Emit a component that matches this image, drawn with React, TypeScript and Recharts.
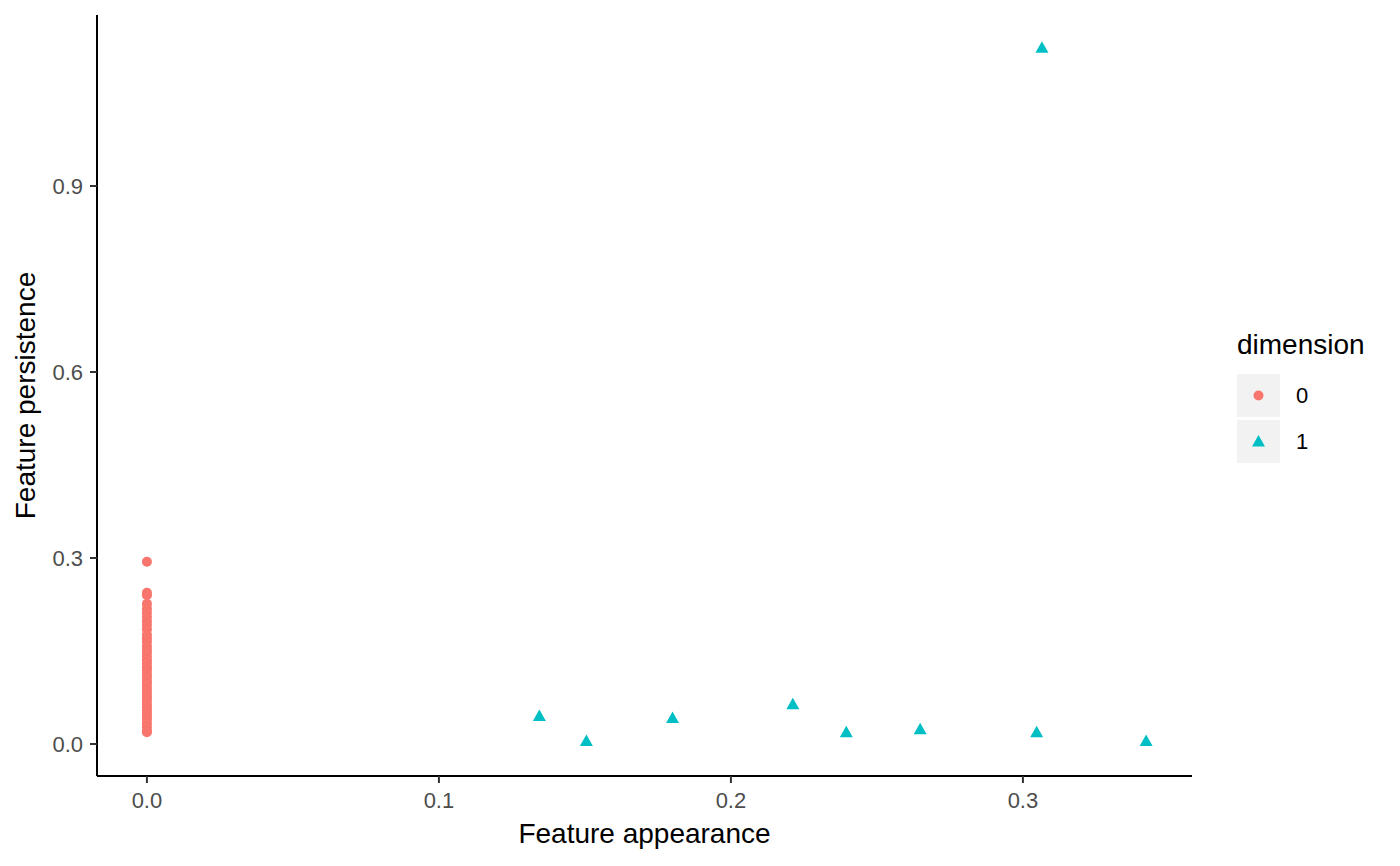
import { ScatterChart, Scatter, XAxis, YAxis, Legend } from "recharts";

const FONT = "'Liberation Sans', Arial, Helvetica, sans-serif";

// dimension 0: all features appear at 0
const dim0Persistence = [
  0.294, 0.244, 0.24, 0.226, 0.218, 0.212, 0.205, 0.198, 0.192, 0.185,
  0.176, 0.17, 0.165, 0.158, 0.152, 0.147, 0.141, 0.135, 0.13, 0.124,
  0.119, 0.113, 0.108, 0.102, 0.097, 0.091, 0.086, 0.08, 0.075, 0.07,
  0.064, 0.059, 0.054, 0.049, 0.044, 0.039, 0.033, 0.027, 0.021, 0.019,
];

// dimension 1
const dim1Appearance = [0.1344, 0.1505, 0.18, 0.2212, 0.2395, 0.2648, 0.3047, 0.3422, 0.3065];
const dim1Persistence = [0.045, 0.005, 0.042, 0.064, 0.019, 0.024, 0.019, 0.005, 1.123];

const xTicks = [0, 0.1, 0.2, 0.3];
const yTicks = [0, 0.3, 0.6, 0.9];

const dim0 = dim0Persistence.map((y) => ({ x: 0, y }));
const dim1 = dim1Appearance.map((x, i) => ({ x, y: dim1Persistence[i] }));

const RED = "#F8766D";
const TEAL = "#00BFC4";

const Dot = (p: any) => <circle cx={p.cx} cy={p.cy} r={5} fill={RED} />;
const Tri = (p: any) => (
  <polygon
    points={`${p.cx},${p.cy - 6.5} ${p.cx + 6.5},${p.cy + 5} ${p.cx - 6.5},${p.cy + 5}`}
    fill={TEAL}
  />
);

function LegendBox() {
  const key = (label: string, sym: JSX.Element) => (
    <div style={{ display: "flex", alignItems: "center", marginBottom: 3 }}>
      <svg width={43} height={43} style={{ display: "block" }}>
        <rect width={43} height={43} fill="#F2F2F2" />
        {sym}
      </svg>
      <span style={{ marginLeft: 16, fontSize: 22, color: "#000" }}>{label}</span>
    </div>
  );
  return (
    <div style={{ fontFamily: FONT, textAlign: "left" }}>
      <div style={{ fontSize: 28, lineHeight: "32px", marginBottom: 13 }}>dimension</div>
      {key("0", <circle cx={21.5} cy={21.5} r={5} fill={RED} />)}
      {key("1", <polygon points="21.5,15 28,26.5 15,26.5" fill={TEAL} />)}
    </div>
  );
}

export default function App() {
  const tick = { fill: "#4D4D4D", fontSize: 22, fontFamily: FONT };
  return (
    <div style={{ position: "absolute", left: 0, top: 0, background: "#fff" }}>
      <ScatterChart width={1400} height={866} margin={{ top: 15, right: 48, bottom: 0, left: 0 }}>
        <XAxis
          type="number"
          dataKey="x"
          domain={[-0.0171, 0.3579]}
          allowDataOverflow
          ticks={xTicks}
          tickFormatter={(v: number) => v.toFixed(1)}
          height={90}
          tick={tick}
          tickSize={7}
          tickMargin={9}
          tickLine={{ stroke: "#333", strokeWidth: 2 }}
          axisLine={{ stroke: "#000", strokeWidth: 2 }}
          label={{
            value: "Feature appearance",
            position: "insideBottom",
            offset: 23,
            style: { fontSize: 28, fill: "#000", fontFamily: FONT },
          }}
        />
        <YAxis
          type="number"
          dataKey="y"
          domain={[-0.0516, 1.1758]}
          allowDataOverflow
          ticks={yTicks}
          tickFormatter={(v: number) => v.toFixed(1)}
          width={97}
          tick={tick}
          tickSize={7}
          tickMargin={7}
          tickLine={{ stroke: "#333", strokeWidth: 2 }}
          axisLine={{ stroke: "#000", strokeWidth: 2 }}
          label={{
            value: "Feature persistence",
            angle: -90,
            position: "insideLeft",
            offset: 25,
            style: { fontSize: 28, fill: "#000", fontFamily: FONT, textAnchor: "middle" },
          }}
        />
        <Legend
          layout="vertical"
          align="right"
          verticalAlign="top"
          content={() => <LegendBox />}
          wrapperStyle={{ left: 1237, top: 329, width: 160 }}
        />
        <Scatter name="0" data={dim0} shape={Dot} isAnimationActive={false} />
        <Scatter name="1" data={dim1} shape={Tri} isAnimationActive={false} />
      </ScatterChart>
    </div>
  );
}
